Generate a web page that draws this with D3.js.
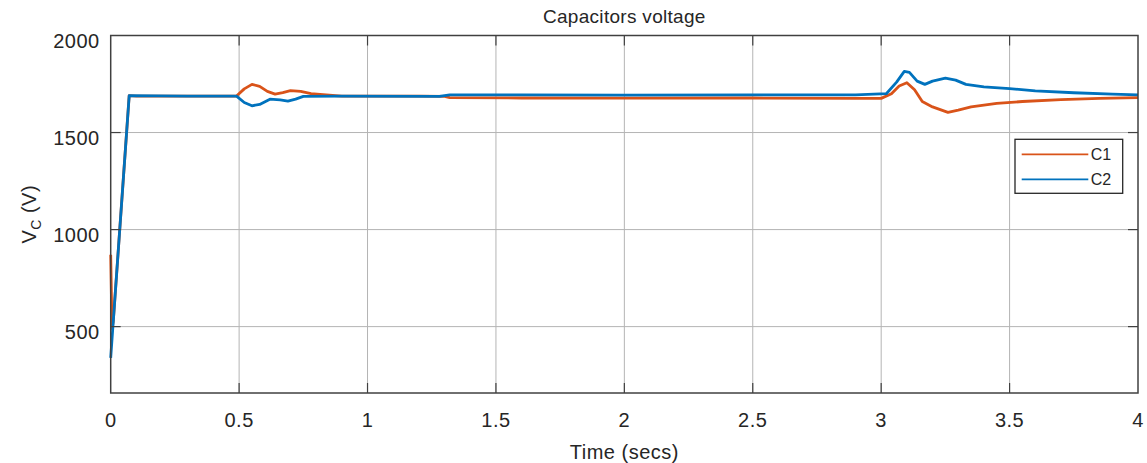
<!DOCTYPE html>
<html>
<head>
<meta charset="utf-8">
<script src="https://cdn.jsdelivr.net/npm/d3@7"></script>
<style>
  body { margin: 0; background: #fff; }
  text { font-family: "Liberation Sans", Arial, sans-serif; fill: #262626; }
</style>
</head>
<body>
<div id="chart"></div>
<script>
// data
const xTicks = [0, 0.5, 1, 1.5, 2, 2.5, 3, 3.5, 4];
const yTicks = [500, 1000, 1500, 2000];

const c1Time = [0, 0.005, 0.01, 0.072, 0.1, 0.3, 0.49, 0.52, 0.55, 0.58, 0.61, 0.64, 0.67, 0.70, 0.74, 0.78, 0.815, 0.9, 1.2, 1.3, 1.32, 1.6, 2.0, 2.5, 2.9, 3.0, 3.04, 3.07, 3.1, 3.13, 3.16, 3.2, 3.26, 3.3, 3.35, 3.45, 3.55, 3.7, 3.85, 4.0];
const c1Volt = [870, 490, 527, 1690, 1688, 1688, 1688, 1725, 1748, 1738, 1712, 1698, 1706, 1716, 1712, 1700, 1696, 1688, 1688, 1686, 1680, 1678, 1677, 1678, 1676, 1676, 1700, 1740, 1757, 1720, 1660, 1632, 1604, 1615, 1632, 1650, 1660, 1670, 1676, 1680];

const c2Time = [0, 0.072, 0.3, 0.49, 0.52, 0.55, 0.58, 0.62, 0.66, 0.69, 0.72, 0.75, 0.9, 1.28, 1.32, 1.6, 2.0, 2.5, 2.9, 3.02, 3.06, 3.09, 3.11, 3.14, 3.17, 3.2, 3.25, 3.29, 3.33, 3.4, 3.5, 3.6, 3.75, 3.9, 4.0];
const c2Volt = [339, 1690, 1688, 1688, 1655, 1638, 1645, 1672, 1668, 1662, 1672, 1686, 1688, 1686, 1694, 1694, 1693, 1694, 1694, 1700, 1760, 1815, 1810, 1765, 1748, 1765, 1780, 1770, 1748, 1735, 1726, 1715, 1705, 1698, 1694];

const seriesNames = ["C1", "C2"];
const colors = ["#D95319", "#0072BD"];

const width = 1147, height = 463;
const margin = { top: 35.5, right: 9, bottom: 70, left: 110.7 };

const svg = d3.select("#chart").append("svg")
  .attr("width", width)
  .attr("height", height);

const x = d3.scaleLinear().domain([0, 4]).range([margin.left, width - margin.right]);
const y = d3.scaleLinear().domain([158, 2000]).range([height - margin.bottom, margin.top]);

const x0 = x.range()[0], x1 = x.range()[1];
const y0 = y.range()[0], y1 = y.range()[1];

// grid
svg.append("g").selectAll("line")
  .data(xTicks.slice(1, -1)).enter().append("line")
  .attr("x1", d => x(d)).attr("x2", d => x(d))
  .attr("y1", y1).attr("y2", y0)
  .attr("stroke", "#b4b4b4").attr("stroke-width", 1);

svg.append("g").selectAll("line")
  .data(yTicks.slice(0, -1)).enter().append("line")
  .attr("x1", x0).attr("x2", x1)
  .attr("y1", d => y(d)).attr("y2", d => y(d))
  .attr("stroke", "#b4b4b4").attr("stroke-width", 1);

// lines (C2 drawn over C1)
const line = d3.line().x(d => x(d[0])).y(d => y(d[1]));
const series = [d3.zip(c1Time, c1Volt), d3.zip(c2Time, c2Volt)];

svg.append("g").selectAll("path")
  .data(series).enter().append("path")
  .attr("d", line)
  .attr("fill", "none")
  .attr("stroke", (d, i) => colors[i])
  .attr("stroke-width", 2.8)
  .attr("stroke-linejoin", "round");

// box
svg.append("rect")
  .attr("x", x0).attr("y", y1)
  .attr("width", x1 - x0).attr("height", y0 - y1)
  .attr("fill", "none").attr("stroke", "#404040").attr("stroke-width", 1.5);

// ticks on all four sides
const tl = 10;
const ticks = svg.append("g").attr("stroke", "#404040").attr("stroke-width", 1.2);
xTicks.slice(1, -1).forEach(t => {
  ticks.append("line").attr("x1", x(t)).attr("x2", x(t)).attr("y1", y0).attr("y2", y0 - tl);
  ticks.append("line").attr("x1", x(t)).attr("x2", x(t)).attr("y1", y1).attr("y2", y1 + tl);
});
yTicks.slice(0, -1).forEach(t => {
  ticks.append("line").attr("x1", x0).attr("x2", x0 + tl).attr("y1", y(t)).attr("y2", y(t));
  ticks.append("line").attr("x1", x1).attr("x2", x1 - tl).attr("y1", y(t)).attr("y2", y(t));
});

// tick labels
svg.append("g").selectAll("text")
  .data(xTicks).enter().append("text")
  .attr("x", d => x(d)).attr("y", y0 + 34)
  .attr("text-anchor", "middle")
  .attr("font-size", 20).attr("letter-spacing", 0.5)
  .attr("fill", "#3a3a3a")
  .text(d => d);

svg.append("g").selectAll("text")
  .data(yTicks).enter().append("text")
  .attr("x", x0 - 11).attr("y", d => y(d) + 12)
  .attr("text-anchor", "end")
  .attr("font-size", 20).attr("letter-spacing", 0.5)
  .attr("fill", "#3a3a3a")
  .text(d => d);

// title and axis labels
svg.append("text")
  .attr("x", (x0 + x1) / 2).attr("y", 23)
  .attr("text-anchor", "middle")
  .attr("font-size", 19).attr("letter-spacing", 0.3)
  .attr("fill", "#000")
  .text("Capacitors voltage");

svg.append("text")
  .attr("x", (x0 + x1) / 2).attr("y", 459)
  .attr("text-anchor", "middle")
  .attr("font-size", 20).attr("letter-spacing", 0.5)
  .text("Time (secs)");

const yl = svg.append("text")
  .attr("transform", `translate(36,${(y0 + y1) / 2}) rotate(-90)`)
  .attr("text-anchor", "middle")
  .attr("font-size", 20).attr("letter-spacing", 0.5);
yl.append("tspan").text("V");
yl.append("tspan").attr("font-size", 14).attr("dy", 5).text("C");
yl.append("tspan").attr("dy", -5).text(" (V)");

// legend
const lg = svg.append("g");
lg.append("rect")
  .attr("x", 1015).attr("y", 139.3).attr("width", 107.7).attr("height", 54)
  .attr("fill", "#fff").attr("stroke", "#262626").attr("stroke-width", 1.3);
seriesNames.forEach((n, i) => {
  const ly = 154.3 + i * 25;
  lg.append("line").attr("x1", 1021.7).attr("x2", 1088.3).attr("y1", ly).attr("y2", ly)
    .attr("stroke", colors[i]).attr("stroke-width", 1.8);
  lg.append("text").attr("x", 1090.7).attr("y", ly + 6)
    .attr("font-size", 16).text(n);
});
</script>
</body>
</html>
